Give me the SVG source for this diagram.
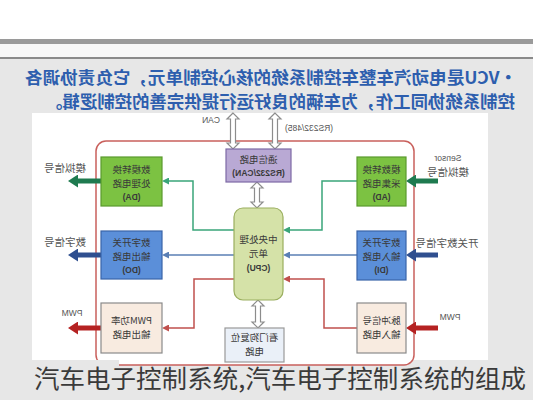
<svg xmlns="http://www.w3.org/2000/svg" width="533" height="400" viewBox="0 0 533 400">
<style>
.bx{stroke-width:1.2}
.t{font-family:"Noto Sans CJK SC","Noto Sans",sans-serif;font-size:9.5px;fill:#3a3a3a;text-anchor:middle}
.lt{font-family:"Liberation Sans","Noto Sans CJK SC",sans-serif;font-size:8.5px;fill:#3a3a3a;text-anchor:middle;font-weight:bold}
.lab{font-family:"Noto Sans CJK SC",sans-serif;font-size:10.5px;fill:#555;text-anchor:middle}
.labl{font-family:"Liberation Sans",sans-serif;font-size:8.5px;fill:#555;text-anchor:middle}
.hd{font-family:"Noto Sans CJK SC",sans-serif;font-size:16.5px;font-weight:bold;fill:#2d5eae}
.dbl{fill:#fff;stroke:#8c8c8c;stroke-width:1.2}
.cn{fill:none;stroke-width:1.5}
.th{fill:none;stroke-width:5}
</style>
<defs>
<marker id="mg" markerUnits="userSpaceOnUse" markerWidth="7" markerHeight="7" refX="1" refY="3.5" orient="auto"><path d="M0,0L7,3.5L0,7z" fill="#3aa57a"/></marker>
<marker id="mb" markerUnits="userSpaceOnUse" markerWidth="7" markerHeight="7" refX="1" refY="3.5" orient="auto"><path d="M0,0L7,3.5L0,7z" fill="#5a7fb5"/></marker>
<marker id="mr" markerUnits="userSpaceOnUse" markerWidth="7" markerHeight="7" refX="1" refY="3.5" orient="auto"><path d="M0,0L7,3.5L0,7z" fill="#c0504d"/></marker>
<marker id="Mg" markerUnits="userSpaceOnUse" markerWidth="10" markerHeight="13" refX="1" refY="6.5" orient="auto"><path d="M0,0L10,6.5L0,13z" fill="#1e7a4f"/></marker>
<marker id="Mb" markerUnits="userSpaceOnUse" markerWidth="10" markerHeight="13" refX="1" refY="6.5" orient="auto"><path d="M0,0L10,6.5L0,13z" fill="#2f4f8f"/></marker>
<marker id="Mr" markerUnits="userSpaceOnUse" markerWidth="10" markerHeight="13" refX="1" refY="6.5" orient="auto"><path d="M0,0L10,6.5L0,13z" fill="#b52222"/></marker>
</defs>
<!-- background -->
<rect x="0" y="0" width="533" height="400" fill="#e7e7e7"/>
<rect x="0" y="0" width="533" height="39" fill="#ffffff"/>
<rect x="0" y="39" width="533" height="5" fill="#9a9a9a"/>
<rect x="0" y="44" width="533" height="14" fill="#f7f7f7"/>
<rect x="0" y="57" width="533" height="2" fill="#8a8a8a"/>
<rect x="32" y="113" width="456" height="247" fill="#ffffff"/>
<g transform="matrix(-1 0 0 1 533 0)">
<text class="hd" x="16" y="84" textLength="492" lengthAdjust="spacingAndGlyphs">•VCU是电动汽车整车控制系统的核心控制单元，它负责协调各</text>
<text class="hd" x="18" y="108" textLength="470" lengthAdjust="spacingAndGlyphs">控制系统协同工作，为车辆的良好运行提供完善的控制逻辑。</text>
<rect x="119" y="141" width="318" height="224" rx="10" fill="#fff" stroke="#c9605c" stroke-width="1.5"/>
<g id="connectors">
<path class="cn" stroke="#3aa57a" d="M299,230H340V181H365" marker-end="url(#mg)"/>
<path class="cn" stroke="#3aa57a" d="M176,181H211V230H244" marker-end="url(#mg)"/>
<path class="cn" stroke="#5a7fb5" d="M299,255H365" marker-end="url(#mb)"/>
<path class="cn" stroke="#5a7fb5" d="M176,255H244" marker-end="url(#mb)"/>
<path class="cn" stroke="#c0504d" d="M299,279H339V328H365" marker-end="url(#mr)"/>
<path class="cn" stroke="#c0504d" d="M176,328H209V279H244" marker-end="url(#mr)"/>
<path class="th" stroke="#1e7a4f" d="M432,181H456" marker-end="url(#Mg)"/>
<path class="th" stroke="#2f4f8f" d="M432,255H456" marker-end="url(#Mb)"/>
<path class="th" stroke="#b52222" d="M432,328H456" marker-end="url(#Mr)"/>
<path class="th" stroke="#1e7a4f" d="M95,181H118" marker-end="url(#Mg)"/>
<path class="th" stroke="#2f4f8f" d="M95,255H118" marker-end="url(#Mb)"/>
<path class="th" stroke="#b52222" d="M95,328H118" marker-end="url(#Mr)"/>
<polygon class="dbl" points="300,113 306,119 302.5,119 302.5,143 306,143 300,149 294,143 297.5,143 297.5,119 294,119"/>
<polygon class="dbl" points="258,113 264,119 260.5,119 260.5,143 264,143 258,149 252,143 255.5,143 255.5,119 252,119"/>
<polygon class="dbl" points="276,182 282,188 278.5,188 278.5,202 282,202 276,208 270,202 273.5,202 273.5,188 270,188"/>
<polygon class="dbl" points="275,300 281,306 277.5,306 277.5,322 281,322 275,328 269,322 272.5,322 272.5,306 269,306"/>
<text class="labl" x="322" y="123">CAN</text>
<text class="labl" x="224" y="131">(RS232/485)</text>
<text class="labl" x="85" y="161">Sensor</text>
<text class="lab" x="85" y="176">模拟信号</text>
<text class="lab" x="86" y="247">开关数字信号</text>
<text class="labl" x="83" y="320">PWM</text>
<text class="lab" x="468" y="172">模拟信号</text>
<text class="lab" x="468" y="246">数字信号</text>
<text class="labl" x="461" y="316">PWM</text>
</g>
<g id="ad"><rect class="bx" x="127" y="157" width="49" height="49" fill="#7cc242" stroke="#5a9a2e"/>
<text class="t" x="151.5" y="173">模数转换</text><text class="t" x="151.5" y="186.5">采集电路</text><text class="lt" x="151.5" y="200">(AD)</text></g>
<g id="di"><rect class="bx" x="127" y="231" width="49" height="49" fill="#5b8fd9" stroke="#3a64a8"/>
<text class="t" x="151.5" y="246">数字开关</text><text class="t" x="151.5" y="259.5">输入电路</text><text class="lt" x="151.5" y="273">(DI)</text></g>
<g id="pulse"><rect class="bx" x="127" y="303" width="49" height="50" fill="#f8ebe0" stroke="#8a8a8a"/>
<text class="t" x="151.5" y="324">脉冲信号</text><text class="t" x="151.5" y="338">输入电路</text></g>
<g id="da"><rect class="bx" x="371" y="157" width="61" height="49" fill="#7cc242" stroke="#5a9a2e"/>
<text class="t" x="401.5" y="173">数模转换</text><text class="t" x="401.5" y="186.5">处理电路</text><text class="lt" x="401.5" y="200">(DA)</text></g>
<g id="do"><rect class="bx" x="371" y="231" width="61" height="48" fill="#5b8fd9" stroke="#3a64a8"/>
<text class="t" x="401.5" y="246">数字开关</text><text class="t" x="401.5" y="259.5">输出电路</text><text class="lt" x="401.5" y="273">(DO)</text></g>
<g id="pwmout"><rect class="bx" x="371" y="303" width="61" height="50" fill="#f8ebe0" stroke="#8a8a8a"/>
<text class="t" x="401.5" y="324">PWM功率</text><text class="t" x="401.5" y="338">输出电路</text></g>
<g id="comm"><rect class="bx" x="242" y="149" width="65" height="33" fill="#b9a9d4" stroke="#7d6aa5"/>
<text class="t" x="274.5" y="163">通信电路</text><text class="lt" x="274.5" y="176">(RS232/CAN)</text></g>
<g id="cpu"><rect class="bx" x="250" y="208" width="49" height="92" rx="9" fill="#d5e2a8" stroke="#9aae5e"/>
<text class="t" x="274.5" y="243">中央处理</text><text class="t" x="274.5" y="256.5">单元</text><text class="lt" x="274.5" y="271">(CPU)</text></g>
<g id="watchdog"><rect class="bx" x="249" y="328" width="59" height="34" fill="#eaf0f8" stroke="#999"/>
<text class="t" x="278.5" y="341">看门狗复位</text><text class="t" x="278.5" y="355">电路</text></g>
</g>
<rect x="0" y="360" width="119" height="40" fill="#e7e7e7"/>
<rect x="414" y="360" width="119" height="40" fill="#e7e7e7"/>
<text x="34" y="388" textLength="492" lengthAdjust="spacingAndGlyphs" font-family="'Noto Sans CJK SC',sans-serif" font-size="25" fill="#3a3a3a">汽车电子控制系统,汽车电子控制系统的组成</text>
</svg>
